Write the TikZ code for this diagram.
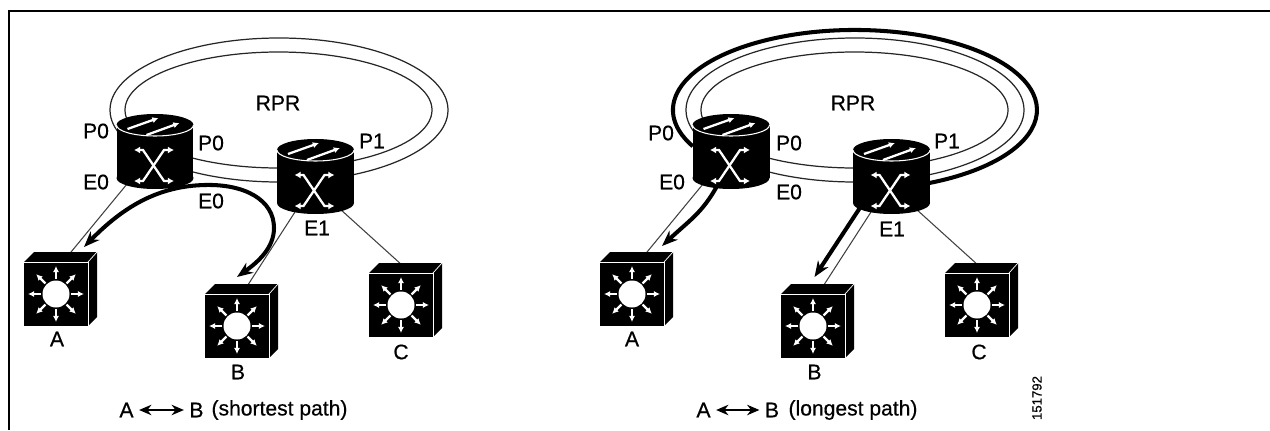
\documentclass[tikz,border=0pt]{standalone}
\usepackage{fontspec}
\setmainfont{Liberation Sans}[RawFeature={embolden=0.5}]
\usetikzlibrary{arrows.meta,backgrounds}

\tikzset{
    portlabel/.style={inner sep=0pt, font=\fontsize{12}{12}\selectfont},
    caption/.style={inner sep=0pt, font=\fontsize{12}{12}\selectfont},
    ring/.style={black!85, line width=0.7pt},
    thinlink/.style={black!75, line width=0.6pt},
    pathline/.style={black, line width=2.3pt},
    pathtip/.style={-{Stealth[length=9pt, width=7pt]}},
    glyph/.style={white, line width=1.3pt, -{Latex[length=3.5pt, width=3.5pt]}},
    routerbody/.style={shape=rectangle, fill=black, inner sep=0pt, outer sep=0pt, minimum width=1.54cm, minimum height=1.06cm},
    switchbody/.style={shape=rectangle, fill=black, inner sep=0pt, outer sep=0pt, minimum size=1.28cm},
    router/.pic={
        \node[routerbody] (-body) at (0, 0) {};
        \fill[black] (0, 26.5) ellipse (38.5 and 11);
        \fill[black] (0, -26.5) ellipse (38.5 and 11);
        \draw[white, line width=0.6pt] (-38.5, 26.5) arc[start angle=180, end angle=360, x radius=38.5, y radius=11];
        \draw[glyph] (-27.5, 22.5) -- (3.5, 33.5);
        \draw[glyph] (-8.5, 16.5) -- (24.5, 28.5);
        \draw[glyph, {Latex[length=3.5pt, width=4pt]}-{Latex[length=3.5pt, width=4pt]}] (-21, -29.5) -- (-12, -29.5) -- (9, 1.5) -- (19, 1.5);
        \draw[glyph, {Latex[length=3.5pt, width=4pt]}-{Latex[length=3.5pt, width=4pt]}] (-21, 1.5) -- (-12, 1.5) -- (9, -29.5) -- (19, -29.5);
    },
    switch/.pic={
        \node[switchbody] (-body) at (0, 0) {};
        \fill[black] (-32, 32) -- (-22, 42) -- (41, 42) -- (32, 32) -- cycle;
        \fill[black] (32, 32) -- (41, 42) -- (41, -23) -- (32, -32) -- cycle;
        \draw[white, line width=0.4pt] (-32, 32) -- (32, 32) -- (32, -32);
        \draw[white, line width=0.4pt] (32, 32) -- (41, 42);
        \fill[white] (0, 0) circle (13.5);
        \foreach \a in {0, 45, ..., 315} {
            \draw[glyph] (\a:15) -- (\a:28);
        }
    }
}

\begin{document}
\begin{tikzpicture}[x=0.02cm, y=0.02cm]
    \useasboundingbox (0, 0) rectangle (1270, 430);

    % frame
    \draw[black, line width=1.1pt] (9, 0) -- (9, 419) -- (1270, 419);

    \foreach \side/\dx in {L/0, R/576} {
        \pic (\side R1) at (155 + \dx, 278.5) {router};
        \pic (\side R2) at (315.5 + \dx, 253.5) {router};
        \pic (\side A) at (56 + \dx, 136) {switch};
        \pic (\side B) at (237 + \dx, 104) {switch};
        \pic (\side C) at (401 + \dx, 125) {switch};

        \begin{scope}[on background layer]
            \draw[ring] (278.5 + \dx, 320) ellipse (153.5 and 58);
            \draw[ring] (279 + \dx, 320) ellipse (169 and 72);
            \draw[thinlink] (\side R1-body.229) -- (\side A-body.78);
            \draw[thinlink] (\side R2-body.241) -- (\side B-body.81);
            \draw[thinlink] (\side R2-body.304) -- (\side C-body.73);
        \end{scope}
    }

    % left paths
    \coordinate (LtipA) at (84, 183);
    \coordinate (LtipB) at (237, 153);
    \draw[pathline, {Stealth[length=9pt, width=7pt]}-{Stealth[length=9pt, width=7pt]}] (LtipA) .. controls (125, 225) and (160, 244) .. (205, 245) .. controls (245, 246) and (274, 230) .. (274, 202) .. controls (274, 182) and (258, 168) .. (LtipB);

    % right paths
    \coordinate (RtipA) at (662, 184);
    \coordinate (RtipB) at (814.5, 153);
    \coordinate (RlongA) at (692.8, 283.7);
    \begin{scope}[on background layer]
        \draw[pathline] (RlongA) arc[start angle=207, end angle=-66, x radius=182, y radius=80];
        \draw[pathline, pathtip] (RR1-body.250) .. controls (704, 218) and (692, 212) .. (RtipA);
        \draw[pathline, pathtip] (RR2-body.223) -- (RtipB);
    \end{scope}

    % left labels
    \node[portlabel] (LtxtRing) at (278, 327) {RPR};
    \node[portlabel] (LtxtP0a) at (96, 299) {P0};
    \node[portlabel] (LtxtP0b) at (211, 287) {P0};
    \node[portlabel] (LtxtP1) at (372, 289) {P1};
    \node[portlabel] (LtxtE0a) at (96, 248) {E0};
    \node[portlabel] (LtxtE0b) at (211, 229) {E0};
    \node[portlabel] (LtxtE1) at (317, 202) {E1};
    \node[portlabel] (LtxtA) at (57, 91) {A};
    \node[portlabel] (LtxtB) at (238, 58) {B};
    \node[portlabel] (LtxtC) at (401, 78) {C};

    % right labels
    \node[portlabel] (RtxtRing) at (853, 327) {RPR};
    \node[portlabel] (RtxtP0a) at (661, 297) {P0};
    \node[portlabel] (RtxtP0b) at (789, 287) {P0};
    \node[portlabel] (RtxtP1) at (947, 289) {P1};
    \node[portlabel] (RtxtE0a) at (672, 248) {E0};
    \node[portlabel] (RtxtE0b) at (789, 238) {E0};
    \node[portlabel] (RtxtE1) at (892, 201) {E1};
    \node[portlabel] (RtxtA) at (632, 91) {A};
    \node[portlabel] (RtxtB) at (814.5, 58) {B};
    \node[portlabel] (RtxtC) at (979, 78) {C};

    % captions
    \node[caption] (LcapA) at (126.5, 20) {A};
    \node[caption] (LcapB) at (196.5, 20) {B};
    \node[caption] (LcapText) at (279.5, 20) {(shortest path)};
    \draw[black, line width=0.6pt, {Stealth[length=7pt, width=6pt]}-{Stealth[length=7pt, width=6pt]}, shorten <=3pt, shorten >=3pt] (LcapA) -- (LcapB);

    \node[caption] (RcapA) at (703.5, 20) {A};
    \node[caption] (RcapB) at (772, 20) {B};
    \node[caption] (RcapText) at (853, 20) {(longest path)};
    \draw[black, line width=0.6pt, {Stealth[length=7pt, width=6pt]}-{Stealth[length=7pt, width=6pt]}, shorten <=3pt, shorten >=3pt] (RcapA) -- (RcapB);

    \node[inner sep=0pt, rotate=90, font=\fontsize{7.5}{8}\selectfont] (figno) at (1037, 32) {151792};
\end{tikzpicture}
\end{document}
